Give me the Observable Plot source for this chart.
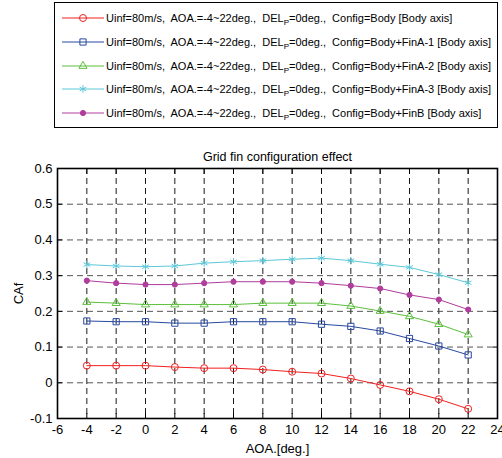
<!DOCTYPE html>
<html><head><meta charset="utf-8">
<script src="https://cdn.jsdelivr.net/npm/d3@7"></script>
<script src="https://cdn.jsdelivr.net/npm/@observablehq/plot@0.6"></script>
<style>
body{margin:0;background:#fff;font-family:"Liberation Sans",Arial,sans-serif;}
#wrap{position:relative;width:502px;height:458px;overflow:hidden;}
#legend{position:absolute;left:54px;top:2px;width:442px;height:124px;border:1.5px solid #000;background:#fff;}
.row{position:absolute;left:0;height:16px;display:flex;align-items:center;}
.row svg{flex:none;}
.row span{font-size:11px;white-space:pre;margin-left:1px;color:#000;}
.row sub{font-size:8px;vertical-align:-3px;line-height:0;}
#chart{position:absolute;left:0;top:130px;}
</style></head>
<body><div id="wrap"><div id="legend"></div><div id="chart"></div></div>
<script>
const aoa = [-4,-2,0,2,4,6,8,10,12,14,16,18,20,22];
const body  = [0.048,0.048,0.048,0.044,0.041,0.041,0.037,0.031,0.026,0.012,-0.006,-0.024,-0.046,-0.073];
const finA1 = [0.173,0.171,0.171,0.167,0.167,0.171,0.171,0.171,0.164,0.158,0.145,0.124,0.103,0.078];
const finA2 = [0.226,0.223,0.219,0.219,0.219,0.219,0.223,0.223,0.223,0.215,0.201,0.186,0.164,0.135];
const finA3 = [0.331,0.327,0.325,0.327,0.335,0.339,0.342,0.346,0.349,0.342,0.332,0.323,0.303,0.280];
const finB  = [0.286,0.279,0.275,0.275,0.279,0.283,0.283,0.283,0.279,0.272,0.264,0.246,0.233,0.205];
const configs = ["Body","Body+FinA-1","Body+FinA-2","Body+FinA-3","Body+FinB"];
const xTicks = [-6,-4,-2,0,2,4,6,8,10,12,14,16,18,20,22,24];
const yTicks = [-0.1,0,0.1,0.2,0.3,0.4,0.5,0.6];

const series = [
  {name: configs[0], values: body,  color:"#f02020", symbol:"circle",   fill:"none", r:3.5},
  {name: configs[1], values: finA1, color:"#2848a0", symbol:"square",   fill:"none", r:3.5},
  {name: configs[2], values: finA2, color:"#5cbf3c", symbol:"triangle", fill:"none", r:3.0},
  {name: configs[3], values: finA3, color:"#5cc8d8", symbol:"asterisk", fill:"none", r:3.6},
  {name: configs[4], values: finB,  color:"#b03c9c", symbol:"circle",   fill:"#b03c9c", r:2.6}
];
const data = series.flatMap(s => aoa.map((a,i) => ({aoa:a, v:s.values[i], name:s.name})));

// legend
const leg = document.getElementById("legend");
const rowTops = [7, 31, 55, 78, 102];
const symMap = {circle:d3.symbolCircle, square:d3.symbolSquare, triangle:d3.symbolTriangle, asterisk:d3.symbolAsterisk};
series.forEach((s,k) => {
  const row = document.createElement("div");
  row.className = "row"; row.style.top = rowTops[k] + "px"; row.style.left = "6px";
  const svg = d3.create("svg").attr("width",44).attr("height",16);
  svg.append("line").attr("x1",1).attr("x2",43).attr("y1",8).attr("y2",8).attr("stroke",s.color).attr("stroke-width",1);
  svg.append("path").attr("transform","translate(22,8)")
    .attr("d", d3.symbol(symMap[s.symbol], Math.PI*s.r*s.r)())
    .attr("fill", s.fill === "none" ? "none" : s.fill).attr("stroke", s.color).attr("stroke-width",1);
  row.appendChild(svg.node());
  const sp = document.createElement("span");
  sp.innerHTML = "Uinf=80m/s,  AOA.=-4~22deg.,  DEL<sub>P</sub>=0deg.,  Config=" + s.name + " [Body axis]";
  row.appendChild(sp);
  leg.appendChild(row);
});

const fmt = d => { const r = Math.round(d*10)/10; return String(r === 0 ? 0 : r); };

const chart = Plot.plot({
  width: 502, height: 328,
  marginTop: 38, marginBottom: 40, marginLeft: 57, marginRight: 5,
  style: {fontFamily: '"Liberation Sans", Arial, sans-serif', fontSize: "13px", color:"#000", background:"#fff"},
  x: {domain: [-6, 24], ticks: xTicks},
  y: {domain: [-0.1, 0.6], ticks: yTicks},
  marks: [
    Plot.gridX(xTicks, {stroke:"#000", strokeOpacity:0.9, strokeDasharray:"6,4", strokeWidth:1}),
    Plot.gridY(yTicks, {stroke:"#444", strokeOpacity:0.9, strokeDasharray:"6,4", strokeWidth:1}),
    Plot.axisX(xTicks, {tickSize: 0, tickPadding: 6, tickFormat: d => String(d), fontSize: 13,
      label: "AOA.[deg.]", labelAnchor: "center", labelArrow: "none", labelOffset: 34}),
    Plot.axisY(yTicks, {tickSize: 0, tickPadding: 5, tickFormat: fmt, fontSize: 13,
      label: "CAf", labelAnchor: "center", labelArrow: "none", labelOffset: 44}),
    Plot.axisX(xTicks, {anchor:"bottom", tickSize: -5, tickFormat: () => "", label: null}),
    Plot.axisX(xTicks, {anchor:"top", tickSize: -5, tickFormat: () => "", label: null}),
    Plot.axisY(yTicks, {anchor:"left", tickSize: -5, tickFormat: () => "", label: null}),
    Plot.axisY(yTicks, {anchor:"right", tickSize: -5, tickFormat: () => "", label: null}),
    Plot.frame({stroke:"#000", strokeWidth:1.6}),
    ...series.map(s => Plot.line(data.filter(d => d.name === s.name), {x:"aoa", y:"v", stroke: s.color, strokeWidth: 1})),
    ...series.map(s => Plot.dot(data.filter(d => d.name === s.name), {x:"aoa", y:"v", stroke: s.color, fill: s.fill, symbol: s.symbol, r: s.r, strokeWidth: 1})),
    Plot.text(["Grid fin configuration effect"], {frameAnchor:"top", dy:-16, fontSize: 12.5, fill:"#000"})
  ]
});
document.getElementById("chart").appendChild(chart);
</script></body></html>
